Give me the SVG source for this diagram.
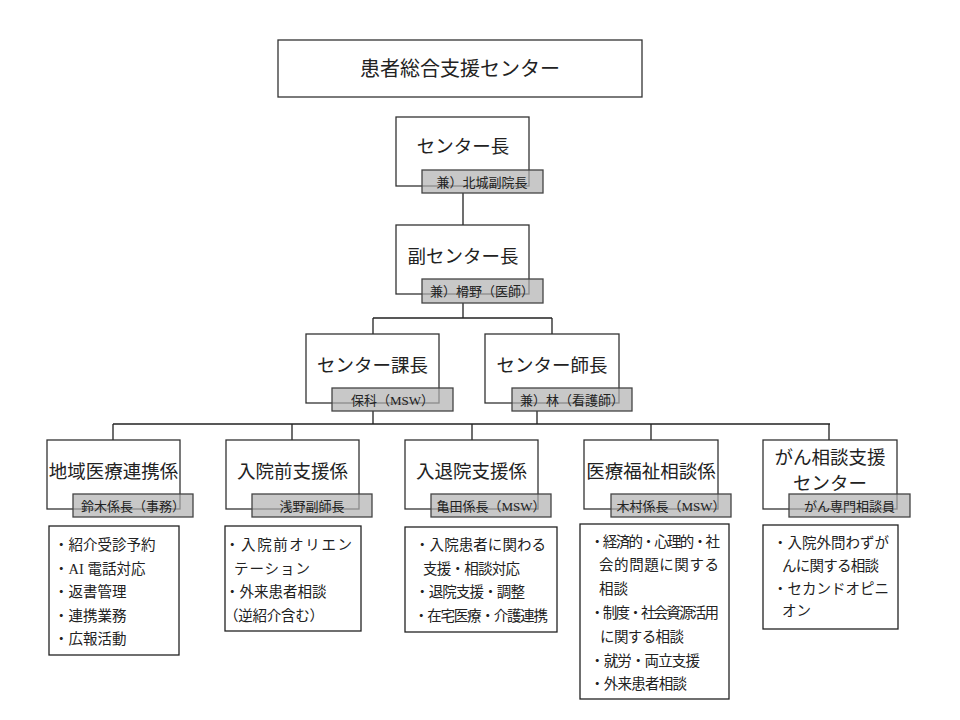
<svg xmlns="http://www.w3.org/2000/svg" width="960" height="720" viewBox="0 0 960 720">
<style>
text{font-family:"Liberation Serif","Noto Sans CJK JP",serif;fill:#222}
.box{fill:#fff;stroke:#333;stroke-width:1.3}
.lbl{fill:#b0b0b0;fill-opacity:0.7;stroke:#444;stroke-width:1.3}
.t{font-size:18.5px;text-anchor:middle}
.tt{font-size:20px;text-anchor:middle}
.l{font-size:13px;text-anchor:middle}
.li{font-size:14.5px}
.lst{fill:#fff;stroke:#222;stroke-width:1.3}
.c{fill:none;stroke:#222;stroke-width:1.3}
</style>
<rect width="960" height="720" fill="#fff"/>
<g id="connectors">
<path class="c" d="M463 193V225M463 303V318M373 318H552M373 318V334M552 318V334M373 411V424M537 411V424M113 424H830M113 424V440M292 424V440M472 424V440M651 424V440M829 424V440"/>
</g>
<g id="title">
<rect class="box" x="278" y="40" width="364" height="57"/>
<text class="tt" x="460" y="75.5">患者総合支援センター</text>
</g>
<g id="chief">
<rect class="box" x="396" y="117" width="133" height="69"/>
<text class="t" x="463" y="153">センター長</text>
<rect class="lbl" x="422" y="170" width="121" height="23"/>
<text class="l" x="482" y="186.5">兼）北城副院長</text>
</g>
<g id="vice">
<rect class="box" x="396" y="225" width="133" height="69"/>
<text class="t" x="463" y="263">副センター長</text>
<rect class="lbl" x="422" y="279" width="121" height="24"/>
<text class="l" x="482" y="296">兼）榾野（医師）</text>
</g>
<g id="manager">
<rect class="box" x="306" y="334" width="133" height="69"/>
<text class="t" x="372.5" y="372">センター課長</text>
<rect class="lbl" x="332" y="388" width="121" height="23"/>
<text class="l" x="392.5" y="404.5">保科（MSW）</text>
</g>
<g id="headnurse">
<rect class="box" x="485" y="334" width="134" height="69"/>
<text class="t" x="552" y="372">センター師長</text>
<rect class="lbl" x="512" y="388" width="120" height="23"/>
<text class="l" x="572" y="404.5">兼）林（看護師）</text>
</g>
<g id="dept1">
<rect class="box" x="47" y="440" width="133" height="69"/>
<text class="t" x="113.5" y="478">地域医療連携係</text>
<rect class="lbl" x="73" y="494" width="120" height="23"/>
<text class="l" x="133" y="510.5">鈴木係長（事務）</text>
</g>
<g id="dept2">
<rect class="box" x="226" y="440" width="133" height="69"/>
<text class="t" x="292.5" y="478">入院前支援係</text>
<rect class="lbl" x="252" y="494" width="120" height="23"/>
<text class="l" x="312" y="510.5">浅野副師長</text>
</g>
<g id="dept3">
<rect class="box" x="405" y="440" width="133" height="69"/>
<text class="t" x="471.5" y="478">入退院支援係</text>
<rect class="lbl" x="431" y="494" width="120" height="23"/>
<text class="l" x="491" y="510.5">亀田係長（MSW）</text>
</g>
<g id="dept4">
<rect class="box" x="584" y="440" width="134" height="69"/>
<text class="t" x="651" y="478">医療福祉相談係</text>
<rect class="lbl" x="611" y="494" width="120" height="23"/>
<text class="l" x="671" y="510.5">木村係長（MSW）</text>
</g>
<g id="dept5">
<rect class="box" x="763" y="440" width="134" height="69"/>
<text class="t" x="830" y="464">がん相談支援</text>
<text class="t" x="830" y="490">センター</text>
<rect class="lbl" x="789" y="494" width="121" height="23"/>
<text class="l" x="849.5" y="510.5">がん専門相談員</text>
</g>
<g id="list1">
<rect class="lst" x="49" y="526" width="130" height="129"/>
<text class="li" x="54" y="550">・紹介受診予約</text>
<text class="li" x="54" y="573.5">・AI 電話対応</text>
<text class="li" x="54" y="597">・返書管理</text>
<text class="li" x="54" y="620.5">・連携業務</text>
<text class="li" x="54" y="643.5">・広報活動</text>
</g>
<g id="list2">
<rect class="lst" x="225" y="526" width="136" height="105"/>
<text class="li" x="225" y="550" textLength="127" lengthAdjust="spacing">・入院前オリエン</text>
<text class="li" x="234" y="573.5" textLength="76" lengthAdjust="spacing">テーション</text>
<text class="li" x="225" y="597">・外来患者相談</text>
<text class="li" x="224" y="620.5" textLength="100" lengthAdjust="spacing">（逆紹介含む）</text>
</g>
<g id="list3">
<rect class="lst" x="405" y="527" width="152" height="105"/>
<text class="li" x="415" y="550" textLength="131" lengthAdjust="spacing">・入院患者に関わる</text>
<text class="li" x="423" y="573.5" textLength="97" lengthAdjust="spacing">支援・相談対応</text>
<text class="li" x="415" y="597" textLength="110" lengthAdjust="spacing">・退院支援・調整</text>
<text class="li" x="414" y="620.5" textLength="134" lengthAdjust="spacing">・在宅医療・介護連携</text>
</g>
<g id="list4">
<rect class="lst" x="580" y="524" width="149" height="175"/>
<text class="li" x="590" y="546.5" textLength="130" lengthAdjust="spacing">・経済的・心理的・社</text>
<text class="li" x="599" y="569.5" textLength="120" lengthAdjust="spacing">会的問題に関する</text>
<text class="li" x="599" y="593.5">相談</text>
<text class="li" x="590" y="617.5" textLength="129" lengthAdjust="spacing">・制度・社会資源活用</text>
<text class="li" x="600" y="641.5" textLength="84" lengthAdjust="spacing">に関する相談</text>
<text class="li" x="590" y="665.5" textLength="110" lengthAdjust="spacing">・就労・両立支援</text>
<text class="li" x="590" y="688.5" textLength="97" lengthAdjust="spacing">・外来患者相談</text>
</g>
<g id="list5">
<rect class="lst" x="763" y="525" width="135" height="104"/>
<text class="li" x="773" y="547.5" textLength="116" lengthAdjust="spacing">・入院外問わずが</text>
<text class="li" x="782" y="570.5" textLength="97" lengthAdjust="spacing">んに関する相談</text>
<text class="li" x="773" y="593.5" textLength="116" lengthAdjust="spacing">・セカンドオピニ</text>
<text class="li" x="782" y="615.5">オン</text>
</g>
</svg>
